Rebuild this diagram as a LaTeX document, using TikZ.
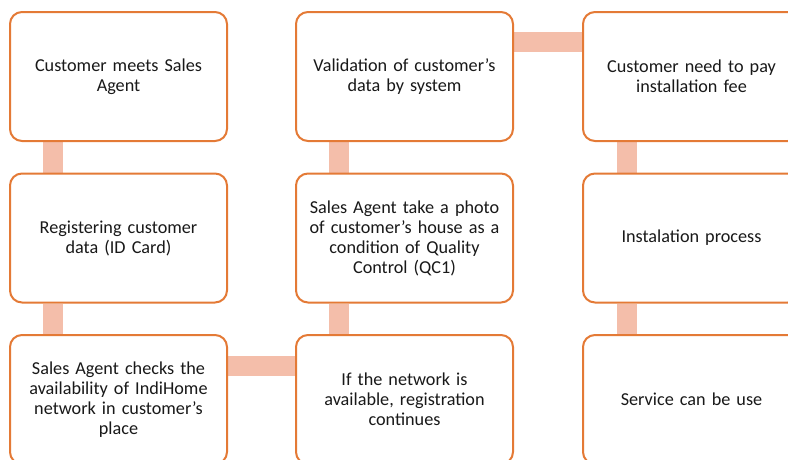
\documentclass[tikz,border=0pt]{standalone}
\usepackage{fontspec}
\setmainfont{Carlito}
\usetikzlibrary{backgrounds}
\definecolor{boxorange}{RGB}{228,122,54}
\definecolor{linkpink}{RGB}{244,190,170}
\tikzset{
  box/.style={draw=boxorange, line width=2pt, fill=white, rounded corners=12pt,
    minimum width=217pt, minimum height=129pt, inner sep=0pt, text width=205pt,
    align=center, font=\fontsize{18.2}{20}\selectfont, text=black!90},
  link/.style={fill=linkpink, draw=none}
}
\begin{document}
\begin{tikzpicture}[x=1pt,y=-1pt]
\useasboundingbox (0,0) rectangle (788,459);
\clip (0,0) rectangle (788,459);
\node[box] (n11) at (118.5,76.5) {Customer meets Sales\\Agent};
\node[box] (n12) at (118.5,238) {Registering customer\\data (ID Card)};
\node[box] (n13) at (118.5,399.5) {Sales Agent checks the\\availability of IndiHome\\network in customer’s\\place};
\node[box] (n21) at (404.5,76.5) {Validation of customer’s\\data by system};
\node[box] (n22) at (404.5,238) {Sales Agent take a photo\\of customer’s house as a\\condition of Quality\\Control (QC1)};
\node[box] (n23) at (404.5,399.5) {If the network is\\available, registration\\continues};
\node[box] (n31) at (691.5,76.5) {Customer need to pay\\installation fee};
\node[box] (n32) at (691.5,238) {Instalation process};
\node[box] (n33) at (691.5,399.5) {Service can be use};
\begin{scope}[on background layer]
  \fill[link] ([xshift=34pt]n11.south west) rectangle ([xshift=54pt]n12.north west);
  \fill[link] ([xshift=34pt]n12.south west) rectangle ([xshift=54pt]n13.north west);
  \fill[link] ([yshift=-22pt]n13.north east) rectangle ([yshift=-42pt]n23.north west);
  \fill[link] ([xshift=34pt]n23.north west) rectangle ([xshift=54pt]n22.south west);
  \fill[link] ([xshift=34pt]n22.north west) rectangle ([xshift=54pt]n21.south west);
  \fill[link] ([yshift=-21pt]n21.north east) rectangle ([yshift=-41pt]n31.north west);
  \fill[link] ([xshift=35pt]n31.south west) rectangle ([xshift=55pt]n32.north west);
  \fill[link] ([xshift=35pt]n32.south west) rectangle ([xshift=55pt]n33.north west);
\end{scope}
\end{tikzpicture}
\end{document}
